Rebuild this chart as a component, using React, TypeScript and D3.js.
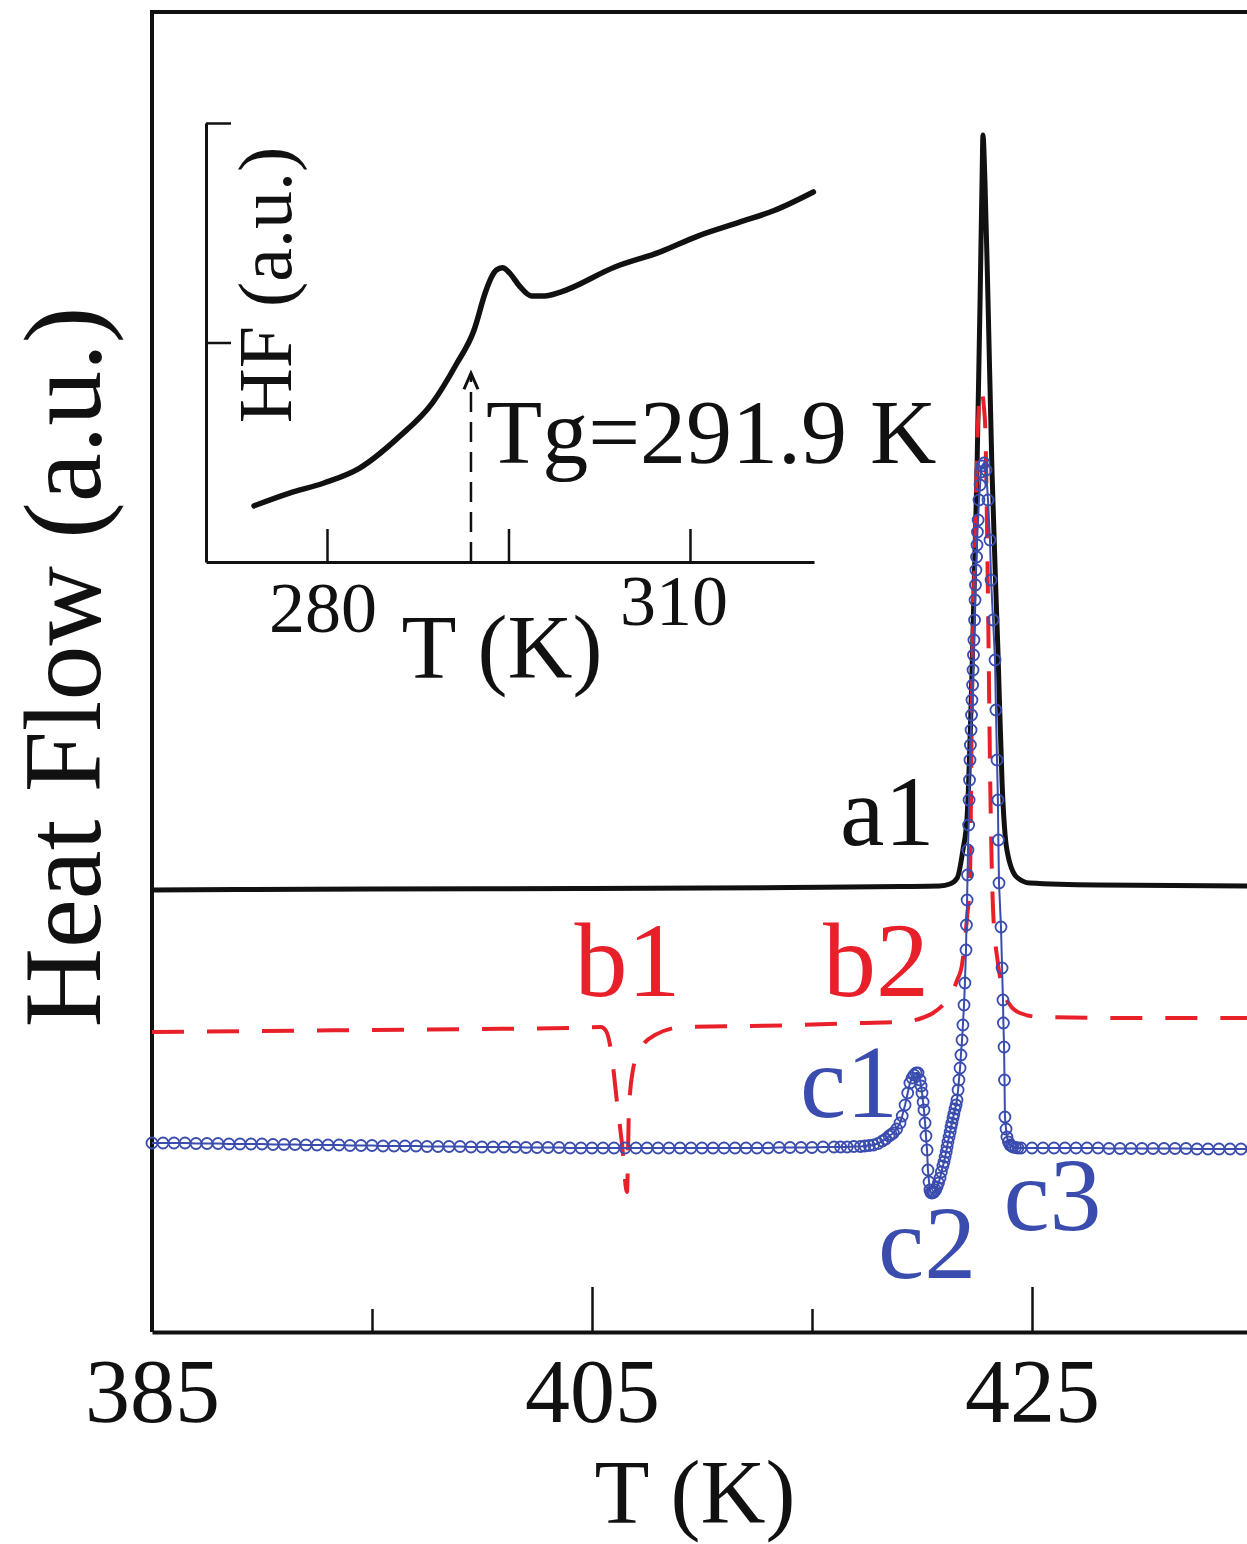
import React, { useEffect, useRef } from "react";
import * as d3 from "d3";

// main DSC traces, T (K) vs heat flow (a.u.)
const curveA1: [number, number][] = [
  [385, 44.2], [395, 44.3], [405, 44.35], [414, 44.45], [419, 44.55], [420.8, 44.6],
  [421.27, 44.8], [421.6, 45.4], [421.86, 48.2], [422.05, 51.5], [422.3, 68.2],
  [422.5, 86.2], [422.64, 103.2], [422.73, 115.2], [422.77, 119.7], [422.86, 115.2],
  [423.0, 103.2], [423.18, 86.2], [423.45, 68.2], [423.64, 54.9], [423.86, 48.2],
  [424.3, 45.5], [424.9, 44.9], [428, 44.7], [435, 44.6],
];

const curveB: [number, number][] = [
  [385, 30.0], [390, 30.1], [395, 30.2], [400, 30.3], [404, 30.4], [405.4, 30.5],
  [405.64, 30.1], [405.86, 28.2], [406.14, 22.9], [406.36, 18.9], [406.59, 14.0],
  [406.68, 22.2], [406.86, 26.2], [407.18, 28.2], [407.86, 29.7], [409.14, 30.5],
  [412, 30.6], [414.45, 30.7], [417, 30.9], [419.0, 31.0], [420.0, 31.4], [420.5, 31.9],
  [421.0, 32.8], [421.27, 33.5], [421.6, 35.2], [421.8, 36.5], [422.05, 41.5],
  [422.18, 45.2], [422.27, 63.2], [422.41, 78.2], [422.55, 91.2], [422.68, 94.2],
  [422.86, 91.2], [423.0, 73.2], [423.1, 55.2], [423.23, 42.2], [423.45, 36.9],
  [423.68, 34.2], [424.0, 32.7], [424.45, 31.9], [425.36, 31.5], [430, 31.4], [435, 31.4],
];

const curveC: [number, number][] = [
  [385, 18.9], [385.5, 18.9], [386, 18.9], [386.5, 18.9], [387, 18.85], [387.5, 18.85],
  [388, 18.85], [388.5, 18.8], [389, 18.8], [389.5, 18.8], [390, 18.8], [390.5, 18.75],
  [391, 18.75], [391.5, 18.75], [392, 18.7], [392.5, 18.7], [393, 18.7], [393.5, 18.7],
  [394, 18.65], [394.5, 18.65], [395, 18.65], [395.5, 18.6], [396, 18.6], [396.5, 18.6],
  [397, 18.6], [397.5, 18.55], [398, 18.55], [398.5, 18.55], [399, 18.55], [399.5, 18.5],
  [400, 18.5], [400.5, 18.5], [401, 18.5], [401.5, 18.5], [402, 18.45], [402.5, 18.45],
  [403, 18.45], [403.5, 18.45], [404, 18.4], [404.5, 18.4], [405, 18.4], [405.5, 18.4],
  [406, 18.4], [406.5, 18.4], [407, 18.4], [407.5, 18.4], [408, 18.4], [408.5, 18.4],
  [409, 18.4], [409.5, 18.4], [410, 18.4], [410.5, 18.4], [411, 18.4], [411.5, 18.4],
  [412, 18.4], [412.5, 18.4], [413, 18.4], [413.5, 18.45], [414, 18.45], [414.5, 18.45],
  [415, 18.45], [415.5, 18.5], [416, 18.5], [416.3, 18.5], [416.6, 18.5], [416.9, 18.55],
  [417.2, 18.55], [417.4, 18.6], [417.6, 18.65], [417.8, 18.7], [418.0, 18.85],
  [418.2, 19.1], [418.35, 19.3], [418.5, 19.6], [418.6, 19.75], [418.7, 19.9],
  [418.85, 20.3], [419.0, 20.9], [419.1, 21.6], [419.23, 22.7], [419.35, 23.9],
  [419.45, 24.9], [419.55, 25.4], [419.64, 25.7], [419.73, 25.9], [419.82, 25.9],
  [419.91, 25.2], [419.96, 24.6], [420.0, 23.9], [420.05, 23.0], [420.09, 22.2],
  [420.14, 20.9], [420.18, 19.6], [420.23, 18.2], [420.27, 16.2], [420.32, 15.0],
  [420.36, 14.2], [420.4, 13.95], [420.45, 13.9], [420.5, 13.95], [420.55, 14.0],
  [420.62, 14.2], [420.68, 14.5], [420.75, 14.9], [420.82, 15.4], [420.88, 16.0],
  [420.95, 16.6], [421.0, 17.0], [421.05, 17.5], [421.1, 18.0], [421.14, 18.5],
  [421.18, 19.0], [421.23, 19.5], [421.28, 20.0], [421.32, 20.5], [421.36, 20.9],
  [421.41, 21.4], [421.45, 21.8], [421.5, 22.3], [421.55, 22.7], [421.59, 23.2],
  [421.64, 24.2], [421.68, 25.2], [421.73, 26.4], [421.77, 27.7], [421.82, 29.2],
  [421.86, 30.7], [421.91, 32.7], [421.95, 34.9], [422.0, 38.2], [422.02, 40.7],
  [422.05, 43.2], [422.07, 45.7], [422.09, 48.2], [422.12, 50.7], [422.14, 53.2],
  [422.16, 55.2], [422.18, 57.2], [422.2, 58.7], [422.23, 60.2], [422.25, 61.7],
  [422.27, 63.2], [422.3, 64.7], [422.32, 66.2], [422.34, 67.7], [422.36, 69.2],
  [422.39, 71.2], [422.41, 73.2], [422.43, 74.7], [422.45, 76.2], [422.48, 77.5],
  [422.5, 78.7], [422.52, 80.0], [422.55, 81.2], [422.59, 83.2], [422.64, 84.7],
  [422.68, 86.0], [422.73, 86.6], [422.82, 86.9], [422.91, 86.2], [423.0, 83.2],
  [423.09, 79.2], [423.14, 75.2], [423.23, 71.2], [423.32, 67.2], [423.36, 62.2],
  [423.41, 57.2], [423.45, 53.2], [423.47, 49.2], [423.5, 44.9], [423.59, 40.5],
  [423.64, 36.4], [423.68, 33.2], [423.7, 30.9], [423.73, 28.5], [423.75, 25.2],
  [423.77, 21.5], [423.82, 20.3], [423.86, 19.5], [423.93, 19.0], [424.0, 18.7],
  [424.07, 18.6], [424.14, 18.5], [424.25, 18.45], [424.36, 18.4], [424.5, 18.4],
  [425, 18.4], [425.5, 18.4], [426, 18.4], [426.5, 18.4], [427, 18.4], [427.5, 18.4],
  [428, 18.4], [428.5, 18.35], [429, 18.35], [429.5, 18.35], [430, 18.35], [430.5, 18.35],
  [431, 18.35], [431.5, 18.35], [432, 18.35], [432.5, 18.3], [433, 18.3], [433.5, 18.3],
  [434, 18.3], [434.5, 18.3], [435, 18.3],
];

// inset: glass transition
const insetCurve: [number, number][] = [
  [273.97, 1.28], [276.9, 1.57], [279.75, 1.8], [282.7, 2.14], [285.95, 2.85],
  [288.7, 3.62], [290.7, 4.51], [292.15, 5.28], [293.1, 6.15], [293.6, 6.49],
  [294.0, 6.65], [294.5, 6.7], [295.1, 6.58], [295.9, 6.29], [296.9, 6.06],
  [298.0, 6.06], [299.3, 6.15], [303.8, 6.72], [307.5, 7.06], [310.7, 7.43],
  [314.1, 7.74], [316.9, 8.0], [320.2, 8.43],
];

const mainMajorTicks = [385, 405, 425];
const mainMinorTicks = [395, 415, 435];
const insetTicks = [280, 295, 310];
const insetTickLabels = [280, 310];
const insetYTicks = [5, 10];
const tgValue = 291.9;
const tgArrowTop = 4.3;

const labelsB = [
  { text: "b1", t: 404.2, v: 33.6 },
  { text: "b2", t: 415.5, v: 33.6 },
];
const labelsC = [
  { text: "c1", t: 414.45, v: 21.5 },
  { text: "c2", t: 418.0, v: 5.4 },
  { text: "c3", t: 423.7, v: 10.2 },
];

const BLACK = "#111";
const RED = "#e8202a";
const BLUE = "#3a4cae";
const FONT = "'Liberation Serif', 'Times New Roman', serif";

const App = () => {
  const ref = useRef<SVGSVGElement | null>(null);

  useEffect(() => {
    const svg = d3.select(ref.current);
    svg.selectAll("*").remove();

    const x = d3.scaleLinear().domain([385, 435]).range([152, 1252]);
    const y = d3.scaleLinear().domain([0, 132]).range([1332, 12]);

    // frame (right side runs past the picture)
    const frame = svg.append("g").attr("stroke", BLACK).attr("stroke-width", 4);
    frame.append("line").attr("x1", x(385) - 2).attr("x2", x(435)).attr("y1", y(132)).attr("y2", y(132));
    frame.append("line").attr("x1", x(385)).attr("x2", x(385)).attr("y1", y(132)).attr("y2", y(0));

    const axisG = svg.append("g").attr("transform", `translate(0,${y(0)})`);
    axisG.call(d3.axisBottom(x).tickValues(mainMajorTicks).tickSizeInner(-45).tickSizeOuter(0).tickPadding(26).tickFormat(d3.format("d")));
    axisG.select(".domain").attr("stroke-width", 4).attr("stroke", BLACK);
    axisG.selectAll(".tick line").attr("stroke-width", 2.5).attr("stroke", BLACK);
    axisG.selectAll(".tick text").attr("font-size", 90).attr("font-family", FONT).attr("fill", BLACK);
    const minorG = svg.append("g").attr("transform", `translate(0,${y(0)})`);
    minorG.call(d3.axisBottom(x).tickValues(mainMinorTicks).tickSizeInner(-23).tickSizeOuter(0).tickFormat(() => ""));
    minorG.select(".domain").remove();
    minorG.selectAll(".tick line").attr("stroke-width", 2.5).attr("stroke", BLACK);

    svg.append("text").attr("x", 695).attr("y", 1523).attr("text-anchor", "middle")
      .attr("font-size", 90).attr("font-family", FONT).attr("fill", BLACK).text("T (K)");
    svg.append("text").attr("transform", "translate(100,667) rotate(-90)").attr("text-anchor", "middle")
      .attr("font-size", 110).attr("font-family", FONT).attr("fill", BLACK).text("Heat Flow (a.u.)");

    const line = d3.line<[number, number]>().x((d) => x(d[0])).y((d) => y(d[1]));

    svg.append("path").datum(curveA1).attr("d", line.curve(d3.curveMonotoneX))
      .attr("fill", "none").attr("stroke", BLACK).attr("stroke-width", 5).attr("stroke-linejoin", "round");
    svg.append("path").datum(curveB).attr("d", line.curve(d3.curveMonotoneX))
      .attr("fill", "none").attr("stroke", RED).attr("stroke-width", 4).attr("stroke-dasharray", "32,23");
    svg.append("path").datum(curveC).attr("d", line.curve(d3.curveLinear))
      .attr("fill", "none").attr("stroke", BLUE).attr("stroke-width", 2);
    svg.append("g").selectAll("circle").data(curveC).enter().append("circle")
      .attr("cx", (d) => x(d[0])).attr("cy", (d) => y(d[1])).attr("r", 5.5)
      .attr("fill", "none").attr("stroke", BLUE).attr("stroke-width", 1.8);

    svg.append("text").attr("x", 840).attr("y", 845).attr("font-size", 100)
      .attr("font-family", FONT).attr("fill", BLACK).text("a1");
    labelsB.forEach((l) => {
      svg.append("text").attr("x", x(l.t)).attr("y", y(l.v)).attr("font-size", 106)
        .attr("font-family", FONT).attr("fill", RED).text(l.text);
    });
    labelsC.forEach((l) => {
      svg.append("text").attr("x", x(l.t)).attr("y", y(l.v)).attr("font-size", 104)
        .attr("font-family", FONT).attr("fill", BLUE).text(l.text);
    });

    // inset
    const ix = d3.scaleLinear().domain([270, 320.25]).range([206, 814]);
    const iy = d3.scaleLinear().domain([0, 10]).range([562, 123]);
    const inset = svg.append("g");
    const ixG = inset.append("g").attr("transform", `translate(0,${iy(0)})`);
    ixG.call(d3.axisBottom(ix).tickValues(insetTicks).tickSizeInner(-33).tickSizeOuter(0).tickFormat(() => ""));
    ixG.select(".domain").attr("stroke-width", 3).attr("stroke", BLACK);
    ixG.selectAll(".tick line").attr("stroke-width", 2.5).attr("stroke", BLACK);
    const iyG = inset.append("g").attr("transform", `translate(${ix(270)},0)`);
    iyG.call(d3.axisRight(iy).tickValues(insetYTicks).tickSizeInner(25).tickSizeOuter(0).tickFormat(() => ""));
    iyG.select(".domain").attr("stroke-width", 3).attr("stroke", BLACK);
    iyG.selectAll(".tick line").attr("stroke-width", 2.5).attr("stroke", BLACK);

    inset.selectAll("text.tl").data(insetTickLabels).enter().append("text")
      .attr("x", (d) => ix(d) - (d === 280 ? 4 : 16)).attr("y", (d) => (d === 280 ? 632 : 625))
      .attr("text-anchor", "middle").attr("font-size", 72).attr("font-family", FONT).attr("fill", BLACK)
      .text((d) => d);
    inset.append("text").attr("x", 502).attr("y", 678).attr("text-anchor", "middle")
      .attr("font-size", 90).attr("font-family", FONT).attr("fill", BLACK).text("T (K)");
    inset.append("text").attr("transform", "translate(291,285) rotate(-90)").attr("text-anchor", "middle")
      .attr("font-size", 76).attr("font-family", FONT).attr("fill", BLACK).text("HF (a.u.)");

    const iline = d3.line<[number, number]>().x((d) => ix(d[0])).y((d) => iy(d[1])).curve(d3.curveMonotoneX);
    inset.append("path").datum(insetCurve).attr("d", iline)
      .attr("fill", "none").attr("stroke", BLACK).attr("stroke-width", 5.5).attr("stroke-linecap", "round");

    const tx = ix(tgValue);
    inset.append("line").attr("x1", tx).attr("x2", tx).attr("y1", iy(0)).attr("y2", iy(tgArrowTop))
      .attr("stroke", BLACK).attr("stroke-width", 2.5).attr("stroke-dasharray", "20,10");
    inset.append("path")
      .attr("d", `M${tx - 7},${iy(tgArrowTop) + 16}L${tx},${iy(tgArrowTop)}L${tx + 7},${iy(tgArrowTop) + 16}`)
      .attr("fill", "none").attr("stroke", BLACK).attr("stroke-width", 3);
    inset.append("text").attr("x", 486).attr("y", 463).attr("font-size", 92)
      .attr("font-family", FONT).attr("fill", BLACK).text("Tg=291.9 K");
  }, []);

  return (
    <svg
      ref={ref}
      width={1247}
      height={1544}
      style={{ position: "absolute", left: 0, top: 0, background: "#fff" }}
    />
  );
};

export default App;
